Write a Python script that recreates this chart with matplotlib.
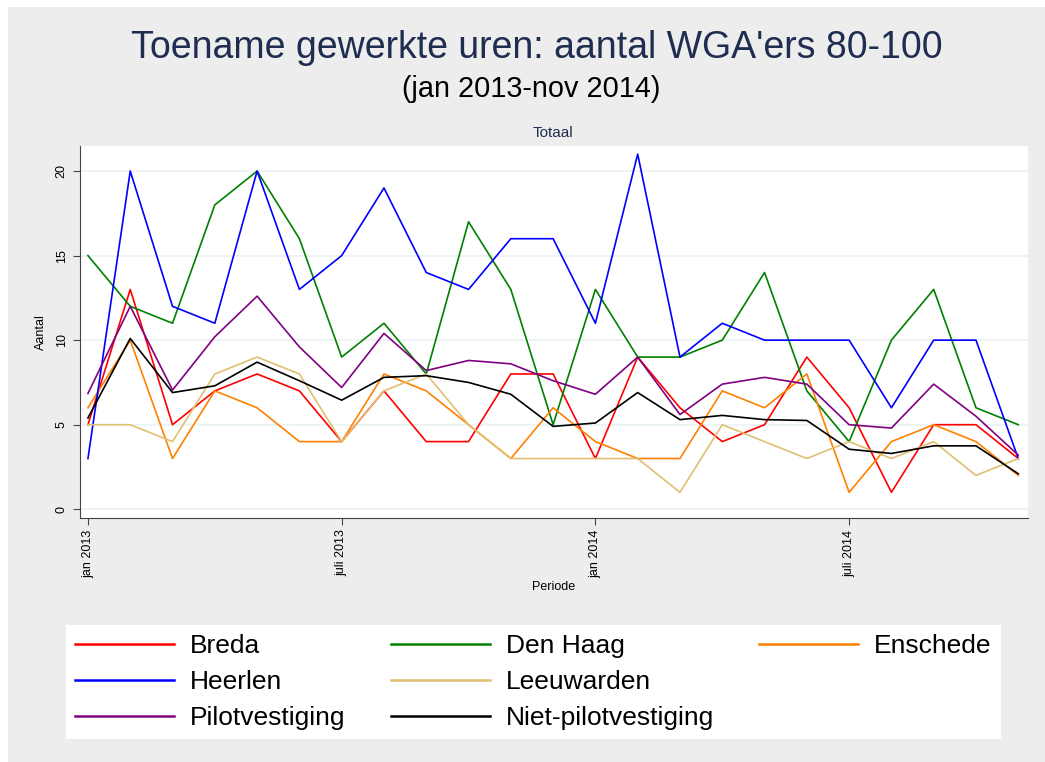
import matplotlib
matplotlib.use("Agg")
import matplotlib.pyplot as plt
from matplotlib.lines import Line2D
import numpy as np

plt.rcParams['font.family'] = ['Liberation Sans', 'DejaVu Sans']

# maanden jan 2013 .. nov 2014
months = np.arange(23)
tick_pos = [0, 6, 12, 18]
tick_labels = ["jan 2013", "juli 2013", "jan 2014", "juli 2014"]

breda = [5, 13, 5, 7, 8, 7, 4, 7, 4, 4, 8, 8, 3, 9, 6, 4, 5, 9, 6, 1, 5, 5, 3]
den_haag = [15, 12, 11, 18, 20, 16, 9, 11, 8, 17, 13, 5, 13, 9, 9, 10, 14, 7, 4, 10, 13, 6, 5]
enschede = [6, 10, 3, 7, 6, 4, 4, 8, 7, 5, 3, 6, 4, 3, 3, 7, 6, 8, 1, 4, 5, 4, 2]
heerlen = [3, 20, 12, 11, 20, 13, 15, 19, 14, 13, 16, 16, 11, 21, 9, 11, 10, 10, 10, 6, 10, 10, 3]
leeuwarden = [5, 5, 4, 8, 9, 8, 4, 7, 8, 5, 3, 3, 3, 3, 1, 5, 4, 3, 4, 3, 4, 2, 3]
pilot = [6.85, 12.0, 7.05, 10.2, 12.6, 9.6, 7.2, 10.4, 8.2, 8.8, 8.6, 7.6, 6.8, 9.0,
         5.6, 7.4, 7.8, 7.4, 5.0, 4.8, 7.4, 5.5, 3.2]
niet_pilot = [5.4, 10.1, 6.9, 7.3, 8.7, 7.6, 6.45, 7.8, 7.9, 7.5, 6.8, 4.9, 5.1, 6.9,
              5.3, 5.55, 5.3, 5.25, 3.55, 3.3, 3.75, 3.75, 2.1]

series = [
    ("Breda", breda, "#ff0000"),
    ("Den Haag", den_haag, "#008000"),
    ("Enschede", enschede, "#ff8000"),
    ("Heerlen", heerlen, "#0000ff"),
    ("Leeuwarden", leeuwarden, "#e0c070"),
    ("Pilotvestiging", pilot, "#800080"),
    ("Niet-pilotvestiging", niet_pilot, "#000000"),
]

W, H = 1045, 762
fig = plt.figure(figsize=(W / 100, H / 100), dpi=100)
fig.patch.set_facecolor("white")
# grijze achtergrond met smalle witte rand links/boven
fig.add_artist(plt.Rectangle((8 / W, 0), 1, 1 - 7 / H, transform=fig.transFigure,
                             facecolor="#ededed", edgecolor="none", zorder=-10))

ax = fig.add_axes([79.5 / W, 1 - 517.7 / H, (1028 - 79.5) / W, (517.7 - 145.7) / H])
ax.set_facecolor("white")

lines = {}
for name, vals, col in series:
    lines[name], = ax.plot(months, vals, color=col, lw=1.2)

ax.set_xlim(-0.2, 22.23)
ax.set_ylim(-0.5, 21.5)
ax.set_yticks([0, 5, 10, 15, 20])
ax.set_xticks(tick_pos)
ax.set_xticklabels(tick_labels, rotation=90, fontsize=9)
ax.set_yticklabels(["0", "5", "10", "15", "20"], rotation=90, va="center", fontsize=9)
ax.grid(axis="y", color="#eaf2f3", lw=1.2)
ax.set_axisbelow(True)
for s in ["top", "right"]:
    ax.spines[s].set_visible(False)
for s in ["left", "bottom"]:
    ax.spines[s].set_color("#444444")
ax.tick_params(colors="#444444", labelcolor="black", length=5)
ax.set_ylabel("Aantal", fontsize=9, labelpad=6)
ax.set_xlabel("Periode", fontsize=9, labelpad=2)

fig.text(537 / W, 1 - 48 / H, "Toename gewerkte uren: aantal WGA'ers 80-100",
         ha="center", va="center", fontsize=27, color="#1f2d50")
fig.text(531 / W, 1 - 89 / H, "(jan 2013-nov 2014)", ha="center", va="center",
         fontsize=20.8, color="black")
fig.text(553 / W, 1 - 133 / H, "Totaal", ha="center", va="center",
         fontsize=11, color="#1f2d50")

# legenda: rij-gewijs zoals Stata, kolommen 3/3/1
blank = Line2D([], [], color="none")
order = ["Breda", "Heerlen", "Pilotvestiging",
         "Den Haag", "Leeuwarden", "Niet-pilotvestiging",
         "Enschede"]
handles = [lines[n] for n in order] + [blank, blank]
labels = order + ["", ""]
leg = fig.legend(handles, labels, ncol=3, loc="lower left",
                 bbox_to_anchor=(66 / W, 1 - 739 / H, (1001 - 66) / W, (739 - 618) / H),
                 mode="expand", fontsize=19, handlelength=3.75, handletextpad=0.6,
                 labelspacing=0.45, borderpad=0.35, frameon=True, fancybox=False,
                 borderaxespad=0, framealpha=1)
leg.get_frame().set_facecolor("white")
leg.get_frame().set_edgecolor("none")
for l in leg.get_lines():
    l.set_linewidth(1.8)

fig.savefig("out.png", dpi=100, facecolor=fig.get_facecolor())
